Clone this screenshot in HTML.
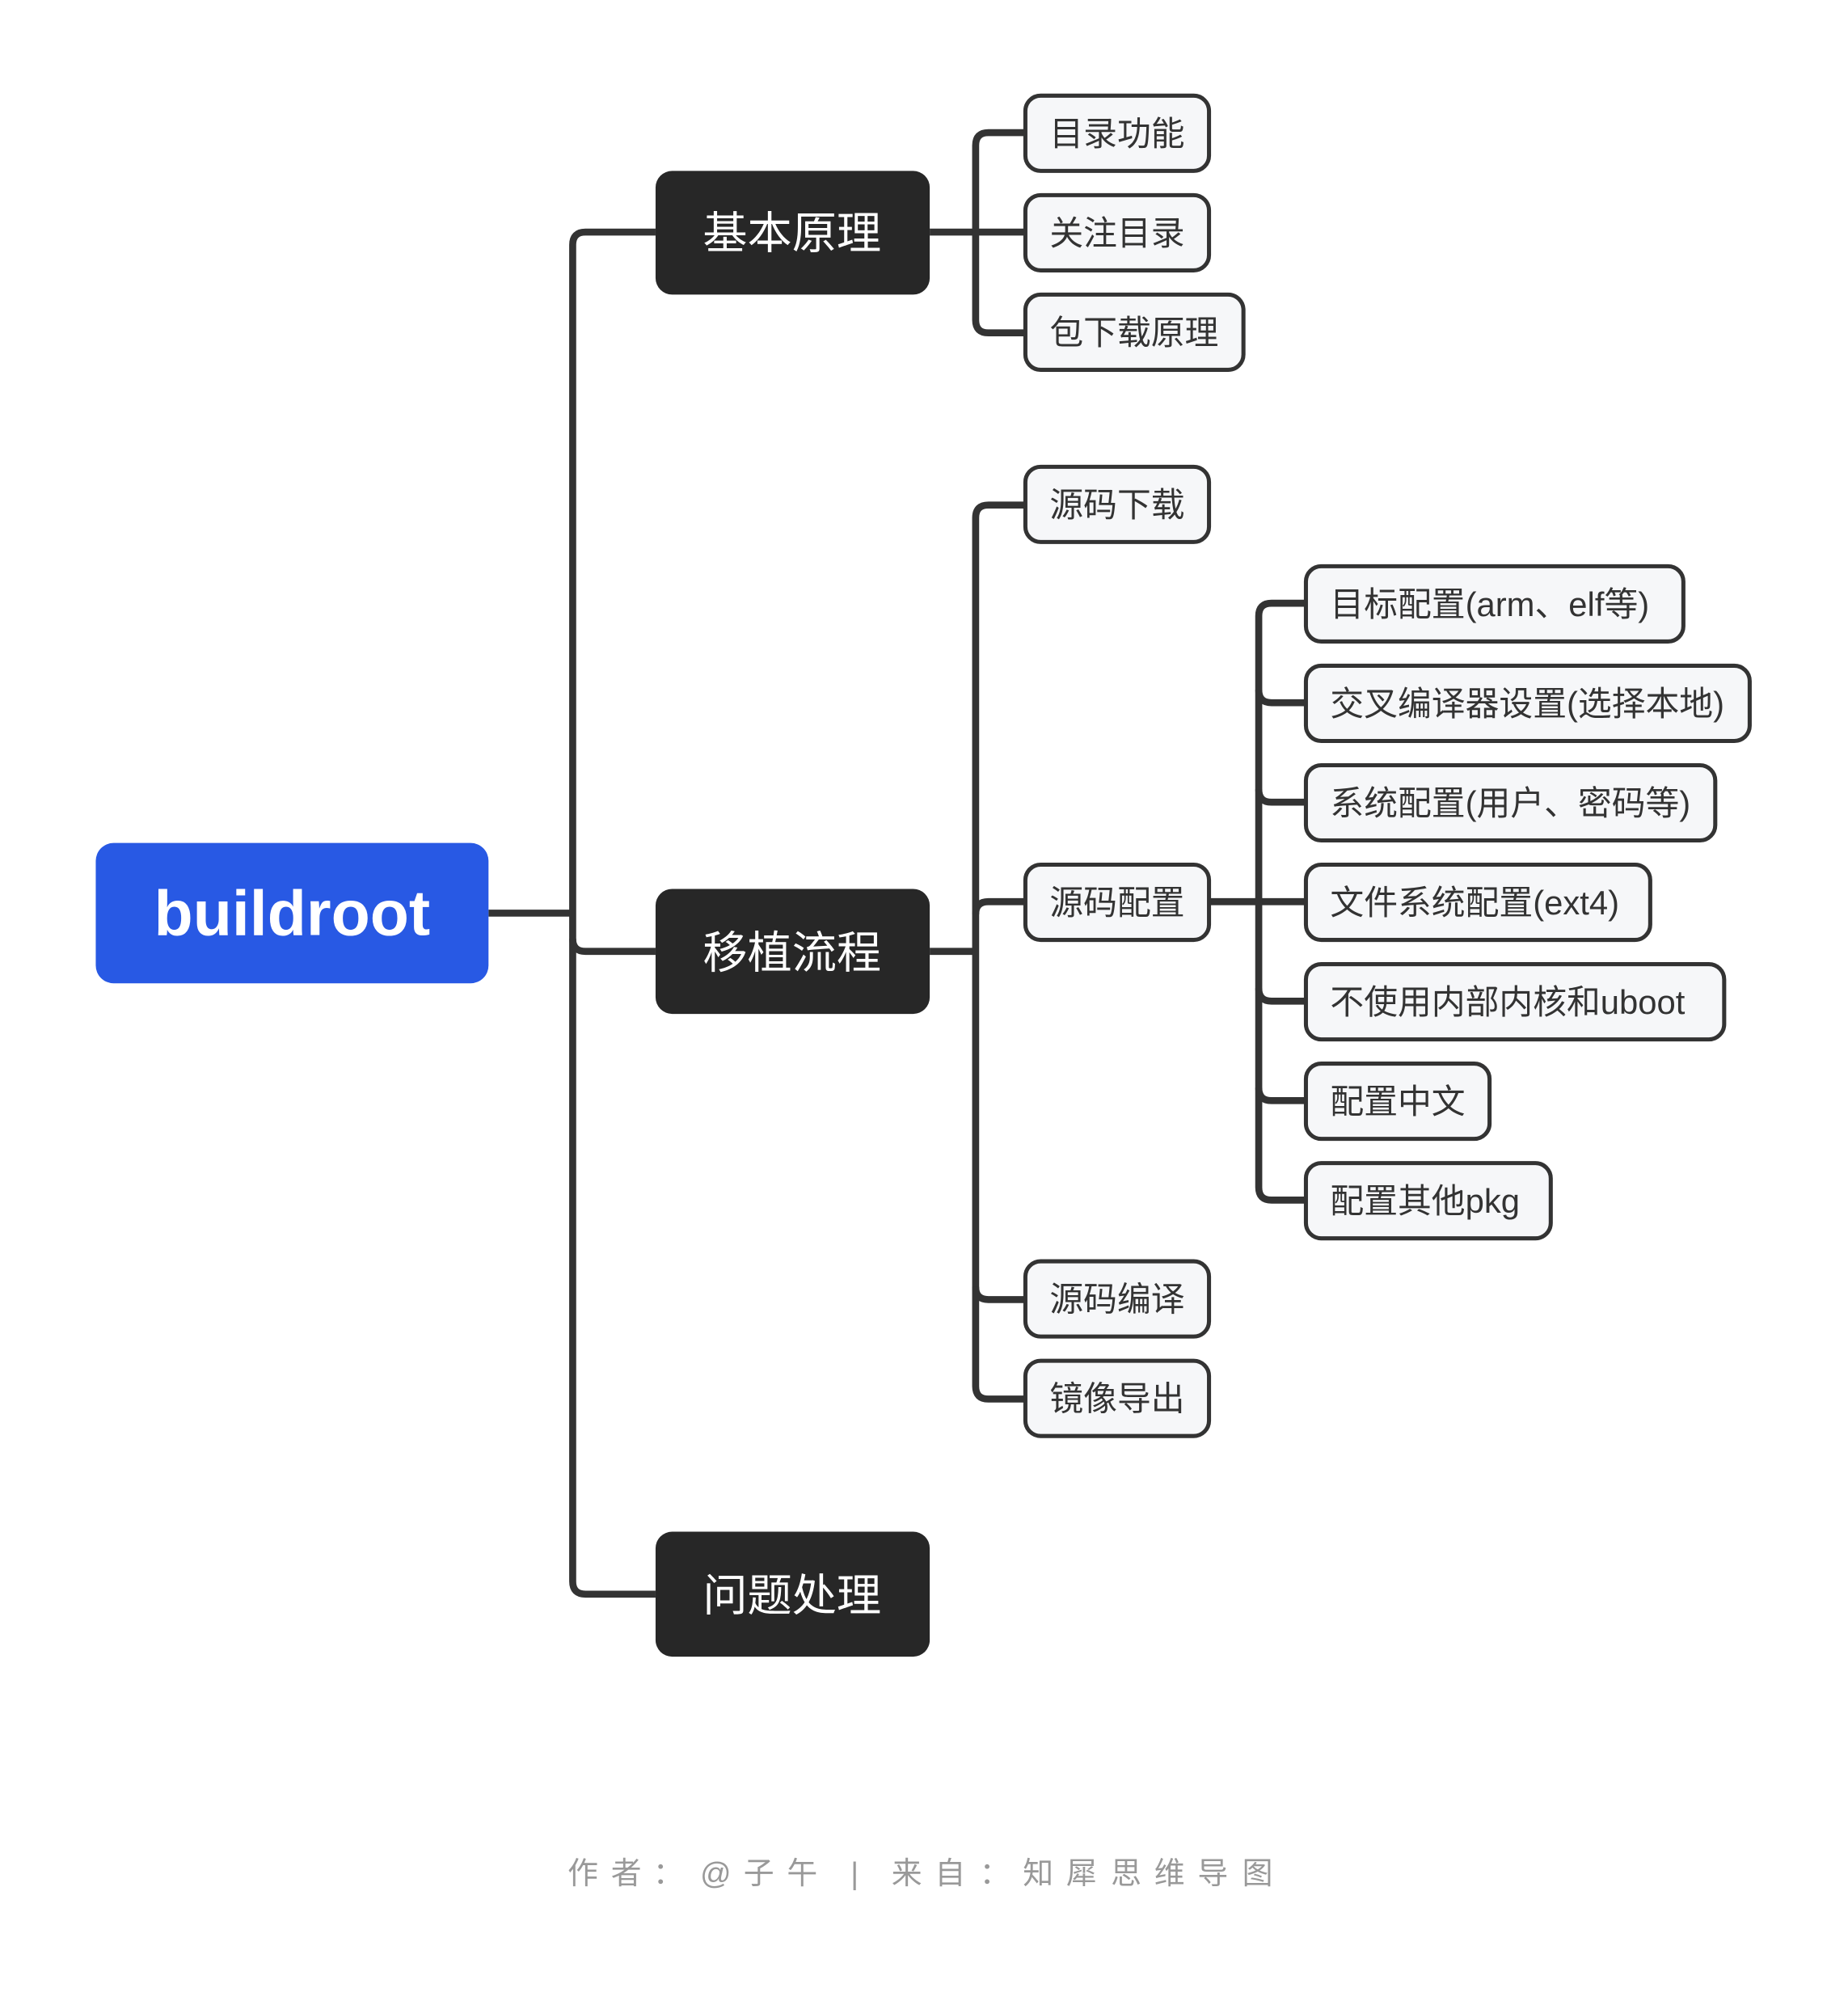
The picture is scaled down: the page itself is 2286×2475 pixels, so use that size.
<!DOCTYPE html>
<html><head><meta charset="utf-8"><style>
html,body{margin:0;padding:0;background:#fff;}
svg{display:block;}
text{font-family:"Liberation Sans","Noto Sans CJK SC",sans-serif;}
</style></head><body>
<svg width="2286" height="2475" viewBox="0 0 1449 1569" xmlns="http://www.w3.org/2000/svg">
<rect width="1449" height="1569" fill="#fff"/>
<g fill="none" stroke="#333" stroke-width="5.5">
<path d="M383,716 H449"/>
<path d="M514,182 H459 Q449,182 449,192 V1240 Q449,1250 459,1250 H514"/>
<path d="M449,736 Q449,746 459,746 H514"/>
<path d="M729,182 H804"/>
<path d="M804,104 H775 Q765,104 765,114 V251 Q765,261 775,261 H804"/>
<path d="M729,746 H765"/>
<path d="M804,396 H775 Q765,396 765,406 V1087 Q765,1097 775,1097 H804"/>
<path d="M765,717 Q765,707 775,707 H804"/>
<path d="M765,1009 Q765,1019 775,1019 H804"/>
<path d="M948,707 H1024"/>
<path d="M1024,473 H997 Q987,473 987,483 V931 Q987,941 997,941 H1024"/>
<path d="M987,541 Q987,551 997,551 H1024"/>
<path d="M987,619 Q987,629 997,629 H1024"/>
<path d="M987,775 Q987,785 997,785 H1024"/>
<path d="M987,853 Q987,863 997,863 H1024"/>
</g>
<rect x="75" y="661" width="308" height="110" rx="14" fill="#2859e4"/>
<text x="229" y="733" font-size="50" font-weight="bold" fill="#fff" text-anchor="middle">buildroot</text>
<g fill="#272727">
<rect x="514" y="134" width="215" height="97" rx="13"/>
<rect x="514" y="697" width="215" height="98" rx="13"/>
<rect x="514" y="1201" width="215" height="98" rx="13"/>
</g>
<g fill="#fff" font-size="35" text-anchor="middle">
<text x="621" y="195">基本原理</text>
<text x="621" y="759">移植流程</text>
<text x="621" y="1263">问题处理</text>
</g>
<g fill="#f6f7f9" stroke="#333" stroke-width="3.2">
<rect x="804" y="75" width="144" height="59" rx="12"/>
<rect x="804" y="153" width="144" height="59" rx="12"/>
<rect x="804" y="231" width="171" height="59" rx="12"/>
<rect x="804" y="366" width="144" height="59" rx="12"/>
<rect x="804" y="678" width="144" height="59" rx="12"/>
<rect x="804" y="989" width="144" height="59" rx="12"/>
<rect x="804" y="1067" width="144" height="59" rx="12"/>
<rect x="1024" y="444" width="296" height="59" rx="12"/>
<rect x="1024" y="522" width="348" height="59" rx="12"/>
<rect x="1024" y="600" width="321" height="59" rx="12"/>
<rect x="1024" y="678" width="270" height="59" rx="12"/>
<rect x="1024" y="756" width="328" height="59" rx="12"/>
<rect x="1024" y="834" width="144" height="59" rx="12"/>
<rect x="1024" y="912" width="192" height="59" rx="12"/>
</g>
<g fill="#333" font-size="26.5">
<text x="823" y="114">目录功能</text>
<text x="823" y="192">关注目录</text>
<text x="823" y="270">包下载原理</text>
<text x="823" y="405">源码下载</text>
<text x="823" y="717">源码配置</text>
<text x="823" y="1028">源码编译</text>
<text x="823" y="1106">镜像导出</text>
<text x="1043" y="483">目标配置(arm、elf等)</text>
<text x="1043" y="561">交叉编译器设置(选择本地)</text>
<text x="1043" y="639">系统配置(用户、密码等)</text>
<text x="1043" y="717">文件系统配置(ext4)</text>
<text x="1043" y="795">不使用内部内核和uboot</text>
<text x="1043" y="873">配置中文</text>
<text x="1043" y="951">配置其他pkg</text>
</g>
<text x="445 479 512 549 583 617 667 699 733 768 802 836 871 905 939 974" y="1477" font-size="24" fill="#999">作者：@子午|来自：知犀思维导图</text>
</svg>
</body></html>
